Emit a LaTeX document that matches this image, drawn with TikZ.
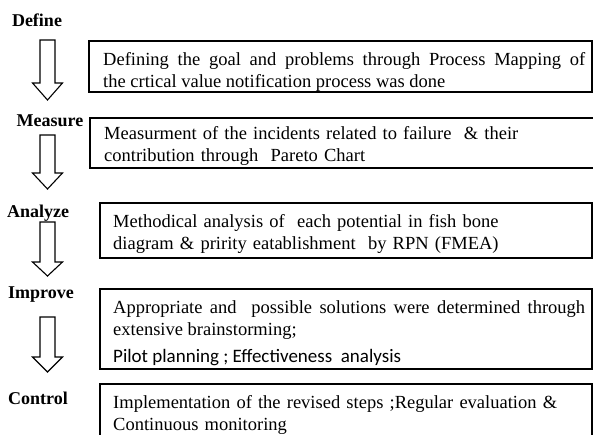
\documentclass[tikz,border=0pt]{standalone}
\usepackage{fontspec}
\setmainfont{Liberation Serif}
\newfontfamily\calibrifont{Carlito}

\tikzset{
  phase/.style={font=\fontsize{18}{22}\selectfont\bfseries, inner sep=0pt},
  stepbox/.style={draw, line width=1.3pt},
  steptext/.style={anchor=north west, inner sep=0pt, align=left,
    font=\fontsize{18.5}{22}\selectfont},
  fulltext/.style={steptext, align=justify},
  blockarrow/.style={draw, line width=1.1pt, line join=miter},
}

\begin{document}
\begin{tikzpicture}[x=1pt, y=-1pt]
  \clip (0, 0) rectangle (593, 435);

  \node[phase] (define) at (37, 20) {Define};
  \node[phase] (measure) at (50, 121) {Measure};
  \node[phase] (analyze) at (38, 213) {Analyze};
  \node[phase] (improve) at (41, 295) {Improve};
  \node[phase] (control) at (38, 398) {Control};

  \draw[blockarrow] (40, 40) -- (55, 40) -- (55, 83) -- (62.5, 83) -- (47.5, 100)
    -- (32.5, 83) -- (40, 83) -- cycle;
  \draw[blockarrow] (40, 135) -- (55, 135) -- (55, 173) -- (62.5, 173) -- (47.5, 189)
    -- (32.5, 173) -- (40, 173) -- cycle;
  \draw[blockarrow] (40, 222) -- (55, 222) -- (55, 262) -- (62.5, 262) -- (47.5, 276)
    -- (32.5, 262) -- (40, 262) -- cycle;
  \draw[blockarrow] (40, 317) -- (55, 317) -- (55, 357) -- (62.5, 357) -- (47.5, 372)
    -- (32.5, 357) -- (40, 357) -- cycle;

  \draw[stepbox] (89, 41) rectangle (592, 92);
  \node[fulltext, text width=482] (definetext) at (103, 50)
    {\strut Defining the goal and problems through Process Mapping of\linebreak
     the crtical value notification process was done};

  \draw[stepbox] (90, 118) rectangle (600, 168);
  \node[steptext, text width=480] (measuretext) at (104, 124)
    {\strut Measurment of the incidents related to failure \ \& their\\
     contribution through \ Pareto Chart};

  \draw[stepbox] (100, 203) rectangle (592, 258);
  \node[steptext, text width=470] (analyzetext) at (113, 212)
    {\strut Methodical analysis of \ each potential in fish bone\\
     diagram \& pririty eatablishment \ by RPN (FMEA)};

  \draw[stepbox] (100, 289) rectangle (592, 369);
  \node[fulltext, text width=472] (improvetext) at (113, 298)
    {\strut Appropriate and \ possible solutions were determined through\linebreak
     extensive brainstorming;\\[5pt]
     {\calibrifont\fontsize{19}{22}\selectfont Pilot planning ; Ef{}fectiveness \ analysis}};

  \draw[stepbox] (100, 384) rectangle (592, 445);
  \node[steptext, text width=470] (controltext) at (113, 393)
    {\strut Implementation of the revised steps ;Regular evaluation \&\\
     Continuous monitoring};
\end{tikzpicture}
\end{document}
